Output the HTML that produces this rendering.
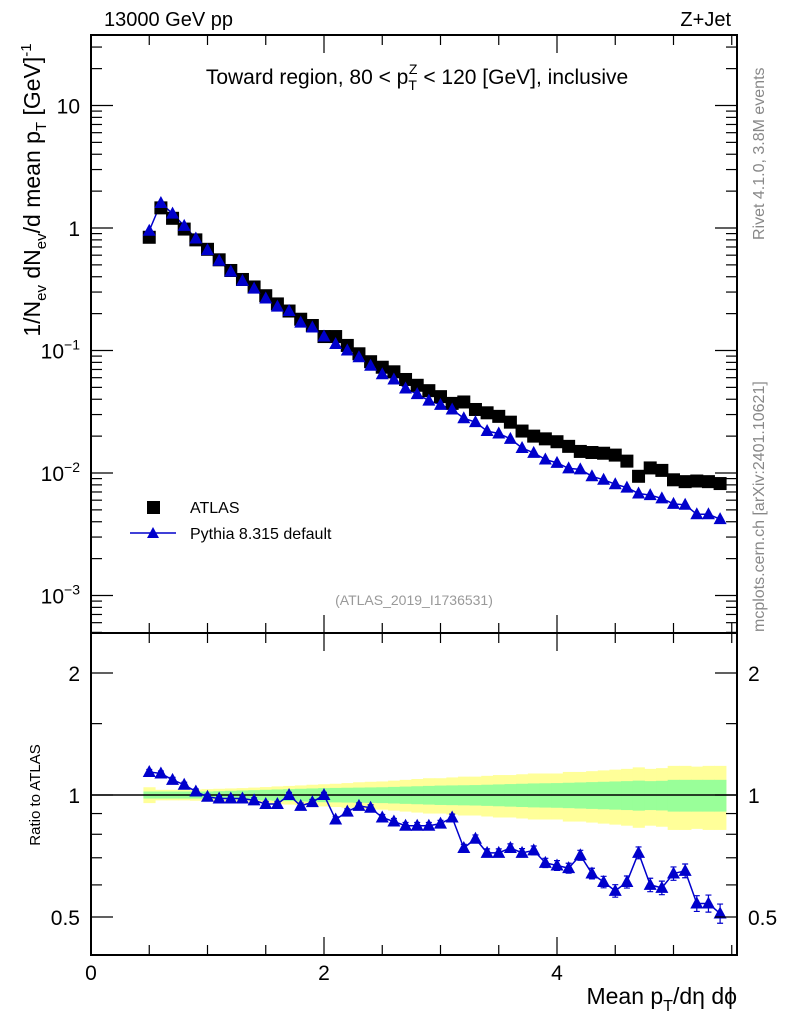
<!DOCTYPE html>
<html><head><meta charset="utf-8"><style>
body{margin:0;background:#fff}
svg text{font-family:"Liberation Sans",sans-serif}
</style></head><body>
<svg id="c" width="786" height="1024" viewBox="0 0 786 1024" xmlns="http://www.w3.org/2000/svg">
<g id="bands"></g>
<g id="marks"></g>
<g id="axes"></g>
<rect x="91" y="35" width="646" height="598" fill="none" stroke="#000" stroke-width="2"/>
<rect x="91" y="633" width="646" height="322" fill="none" stroke="#000" stroke-width="2"/>
<text x="104" y="26" font-size="20">13000 GeV pp</text>
<text x="731" y="26" font-size="20" text-anchor="end">Z+Jet</text>
<text x="417" y="84" font-size="21" text-anchor="middle">Toward region, 80 &lt; p<tspan font-size="14" dy="6">T</tspan><tspan font-size="14" dx="-8" dy="-16">Z</tspan><tspan dy="10"> &lt; 120 [GeV], inclusive</tspan></text>
<text transform="translate(40,190) rotate(-90)" font-size="23" text-anchor="middle">1/N<tspan font-size="15" dy="6">ev</tspan><tspan dy="-6"> dN</tspan><tspan font-size="15" dy="6">ev</tspan><tspan dy="-6">/d mean p</tspan><tspan font-size="15" dy="6">T</tspan><tspan dy="-6"> [GeV]</tspan><tspan font-size="15" dy="-9">-1</tspan></text>
<text transform="translate(40,795) rotate(-90)" font-size="15" text-anchor="middle">Ratio to ATLAS</text>
<text x="737" y="1004" font-size="23" text-anchor="end">Mean p<tspan font-size="16" dy="7">T</tspan><tspan dy="-7">/dη dϕ</tspan></text>
<text transform="translate(764,240) rotate(-90)" font-size="16" fill="#888">Rivet 4.1.0,  3.8M events</text>
<text transform="translate(764,632) rotate(-90)" font-size="16" fill="#888">mcplots.cern.ch [arXiv:2401.10621]</text>
<text x="414" y="605" font-size="14" fill="#999" text-anchor="middle">(ATLAS_2019_I1736531)</text>
<rect x="147" y="501" width="13" height="13" fill="#000"/>
<text x="190" y="513" font-size="16">ATLAS</text>
<line x1="130" y1="533" x2="176" y2="533" stroke="#00c" stroke-width="1.5"/>
<path d="M147,538 L159,538 L153,527 Z" fill="#00c"/>
<text x="190" y="539" font-size="16">Pythia 8.315 default</text>
</svg>
<script>
const xCenters=[0.5,0.6,0.7,0.8,0.9,1.0,1.1,1.2,1.3,1.4,1.5,1.6,1.7,1.8,1.9,2.0,2.1,2.2,2.3,2.4,2.5,2.6,2.7,2.8,2.9,3.0,3.1,3.2,3.3,3.4,3.5,3.6,3.7,3.8,3.9,4.0,4.1,4.2,4.3,4.4,4.5,4.6,4.7,4.8,4.9,5.0,5.1,5.2,5.3,5.4];
const atlasValues=[0.84,1.46,1.2,0.98,0.8,0.67,0.55,0.45,0.38,0.33,0.28,0.24,0.21,0.18,0.16,0.13,0.13,0.11,0.094,0.081,0.073,0.067,0.058,0.052,0.047,0.042,0.037,0.038,0.033,0.031,0.029,0.026,0.022,0.020,0.019,0.018,0.0165,0.015,0.0147,0.0145,0.014,0.0125,0.0094,0.011,0.0105,0.0088,0.0085,0.0086,0.0085,0.0082];
const pythiaValues=[0.95,1.6,1.31,1.04,0.82,0.66,0.54,0.44,0.37,0.32,0.266,0.228,0.21,0.169,0.154,0.13,0.113,0.10,0.088,0.075,0.064,0.058,0.049,0.044,0.039,0.036,0.033,0.028,0.026,0.022,0.021,0.019,0.016,0.0146,0.0129,0.0121,0.0109,0.0107,0.0094,0.0088,0.0081,0.0076,0.0068,0.0066,0.0062,0.0056,0.0055,0.0046,0.0046,0.0042];
const ratioValues=[1.14,1.13,1.09,1.06,1.02,0.99,0.98,0.98,0.98,0.97,0.95,0.95,1.00,0.94,0.96,1.00,0.87,0.91,0.94,0.93,0.88,0.86,0.84,0.84,0.84,0.85,0.88,0.74,0.78,0.72,0.72,0.74,0.72,0.73,0.68,0.67,0.66,0.71,0.64,0.61,0.58,0.61,0.72,0.60,0.59,0.64,0.65,0.54,0.54,0.51];
const statErr=[0.02,0.02,0.02,0.02,0.02,0.02,0.022,0.024,0.026,0.028,0.03,0.032,0.034,0.036,0.038,0.04,0.041,0.042,0.043,0.044,0.045,0.047,0.049,0.051,0.053,0.055,0.056,0.057,0.058,0.06,0.062,0.064,0.066,0.068,0.069,0.07,0.072,0.074,0.076,0.078,0.08,0.082,0.085,0.082,0.084,0.09,0.09,0.09,0.09,0.09];
const totalErr=[0.045,0.03,0.03,0.03,0.032,0.034,0.036,0.038,0.04,0.043,0.046,0.05,0.053,0.056,0.06,0.063,0.066,0.07,0.075,0.078,0.08,0.085,0.09,0.095,0.1,0.1,0.105,0.11,0.11,0.115,0.12,0.12,0.125,0.13,0.13,0.13,0.14,0.14,0.145,0.15,0.155,0.16,0.17,0.16,0.165,0.18,0.18,0.175,0.18,0.18];
const ratioErr=[0.003,0.003,0.003,0.003,0.003,0.003,0.003,0.003,0.003,0.003,0.003,0.003,0.004,0.004,0.004,0.004,0.004,0.004,0.005,0.005,0.005,0.005,0.006,0.006,0.006,0.006,0.007,0.007,0.008,0.008,0.008,0.009,0.009,0.01,0.01,0.011,0.011,0.012,0.012,0.013,0.014,0.014,0.016,0.016,0.016,0.017,0.018,0.018,0.02,0.022];
const xTickLabels=["0","2","4"];
const yTickLabels=["10","1","10^-1","10^-2","10^-3"];
const ratioTickLabels=["0.5","1","2"];

const NS="http://www.w3.org/2000/svg";
const X0=91,X1=737,XMAX=(737-91)/116.5;
const sx=v=>X0+v*116.5;
const sy=v=>228-Math.log10(v)*122.5;
const sr=v=>795-Math.log2(v)*122;
function mk(tag,attrs,parent){const e=document.createElementNS(NS,tag);for(const k in attrs)e.setAttribute(k,attrs[k]);parent.appendChild(e);return e;}
const bands=document.getElementById('bands'),marks=document.getElementById('marks'),axes=document.getElementById('axes');

xCenters.forEach((x,i)=>{
  let r=mk('rect',{x:sx(x-0.05),width:116.5*0.1+0.5,y:sr(1+totalErr[i]),height:sr(1-totalErr[i])-sr(1+totalErr[i]),fill:'#ffff99'},bands);
  
  
});
xCenters.forEach((x,i)=>{
  let r=mk('rect',{x:sx(x-0.05),width:116.5*0.1+0.5,y:sr(1+statErr[i]),height:sr(1-statErr[i])-sr(1+statErr[i]),fill:'#99ff99'},bands);
  
  
});
let ref=mk('line',{x1:X0,x2:X1,y1:sr(1),y2:sr(1),stroke:'#000','stroke-width':1.5},bands);



let lp=mk('polyline',{points:xCenters.map((x,i)=>sx(x)+','+sy(pythiaValues[i])).join(' '),fill:'none',stroke:'#00c','stroke-width':1.5},marks);


function tri(cx,cy,p,name){let t=mk('path',{d:`M${cx-6.5},${cy+5} L${cx+6.5},${cy+5} L${cx},${cy-7} Z`,fill:'#00c'},p);
  
  }
xCenters.forEach((x,i)=>{
  let s=mk('rect',{x:sx(x)-6.5,y:sy(atlasValues[i])-6.5,width:13,height:13,fill:'#000'},marks);
  
  
});
xCenters.forEach((x,i)=>tri(sx(x),sy(pythiaValues[i]),marks,'pythia-point'));

let lr=mk('polyline',{points:xCenters.map((x,i)=>sx(x)+','+sr(ratioValues[i])).join(' '),fill:'none',stroke:'#00c','stroke-width':1.5},marks);


xCenters.forEach((x,i)=>{
  const a=sr(ratioValues[i]+ratioErr[i]),b=sr(ratioValues[i]-ratioErr[i]);
  let e=mk('path',{d:`M${sx(x)},${a-2} V${b+2} M${sx(x)-3},${a-2} H${sx(x)+3} M${sx(x)-3},${b+2} H${sx(x)+3}`,stroke:'#00c','stroke-width':1.2,fill:'none'},marks);
  
  
  tri(sx(x),sr(ratioValues[i]),marks,'ratio-point');
});

const tk=(x1,y1,x2,y2)=>mk('line',{x1,y1,x2,y2,stroke:'#000','stroke-width':1.2},axes);
for(let v=0;v<=XMAX+1e-6;v+=0.5){
  const big=Math.abs(v-Math.round(v))<1e-6&&Math.round(v)%2===0;const L=big?18:10;
  tk(sx(v),955,sx(v),955-L);tk(sx(v),633,sx(v),633-L);tk(sx(v),633,sx(v),633+L);tk(sx(v),35,sx(v),35+L);
}
xTickLabels.forEach(l=>{let t=mk('text',{x:sx(+l),y:980,'font-size':21,'text-anchor':'middle'},axes);t.textContent=l;
  
  });
for(let e=-4;e<=1;e++)for(let m=1;m<10;m++){const v=m*Math.pow(10,e);const y=sy(v);if(y<35||y>633)continue;
  const L=m===1?22:11;tk(X0,y,X0+L,y);tk(X1,y,X1-L,y);}
yTickLabels.forEach(l=>{const p=l.split('^');const v=p.length>1?Math.pow(10,+p[1]):+l;
  let t=mk('text',{x:80,y:sy(v)+8,'font-size':21,'text-anchor':'end'},axes);
  
  
  if(p.length>1){t.textContent=p[0];let s=mk('tspan',{'font-size':14,dy:-9},t);s.textContent=p[1].replace('-','−');}
  else t.textContent=l;});
[0.5,0.6,0.7,0.8,0.9,1,1.5,2].forEach(v=>{const L=(v===0.5||v===1||v===2)?22:11;tk(X0,sr(v),X0+L,sr(v));tk(X1,sr(v),X1-L,sr(v));});
ratioTickLabels.forEach(l=>{
  let t=mk('text',{x:80,y:sr(+l)+8,'font-size':21,'text-anchor':'end'},axes);t.textContent=l;
  
  
  let u=mk('text',{x:748,y:sr(+l)+8,'font-size':21},axes);u.textContent=l;
  
  
});
</script>
</body></html>
